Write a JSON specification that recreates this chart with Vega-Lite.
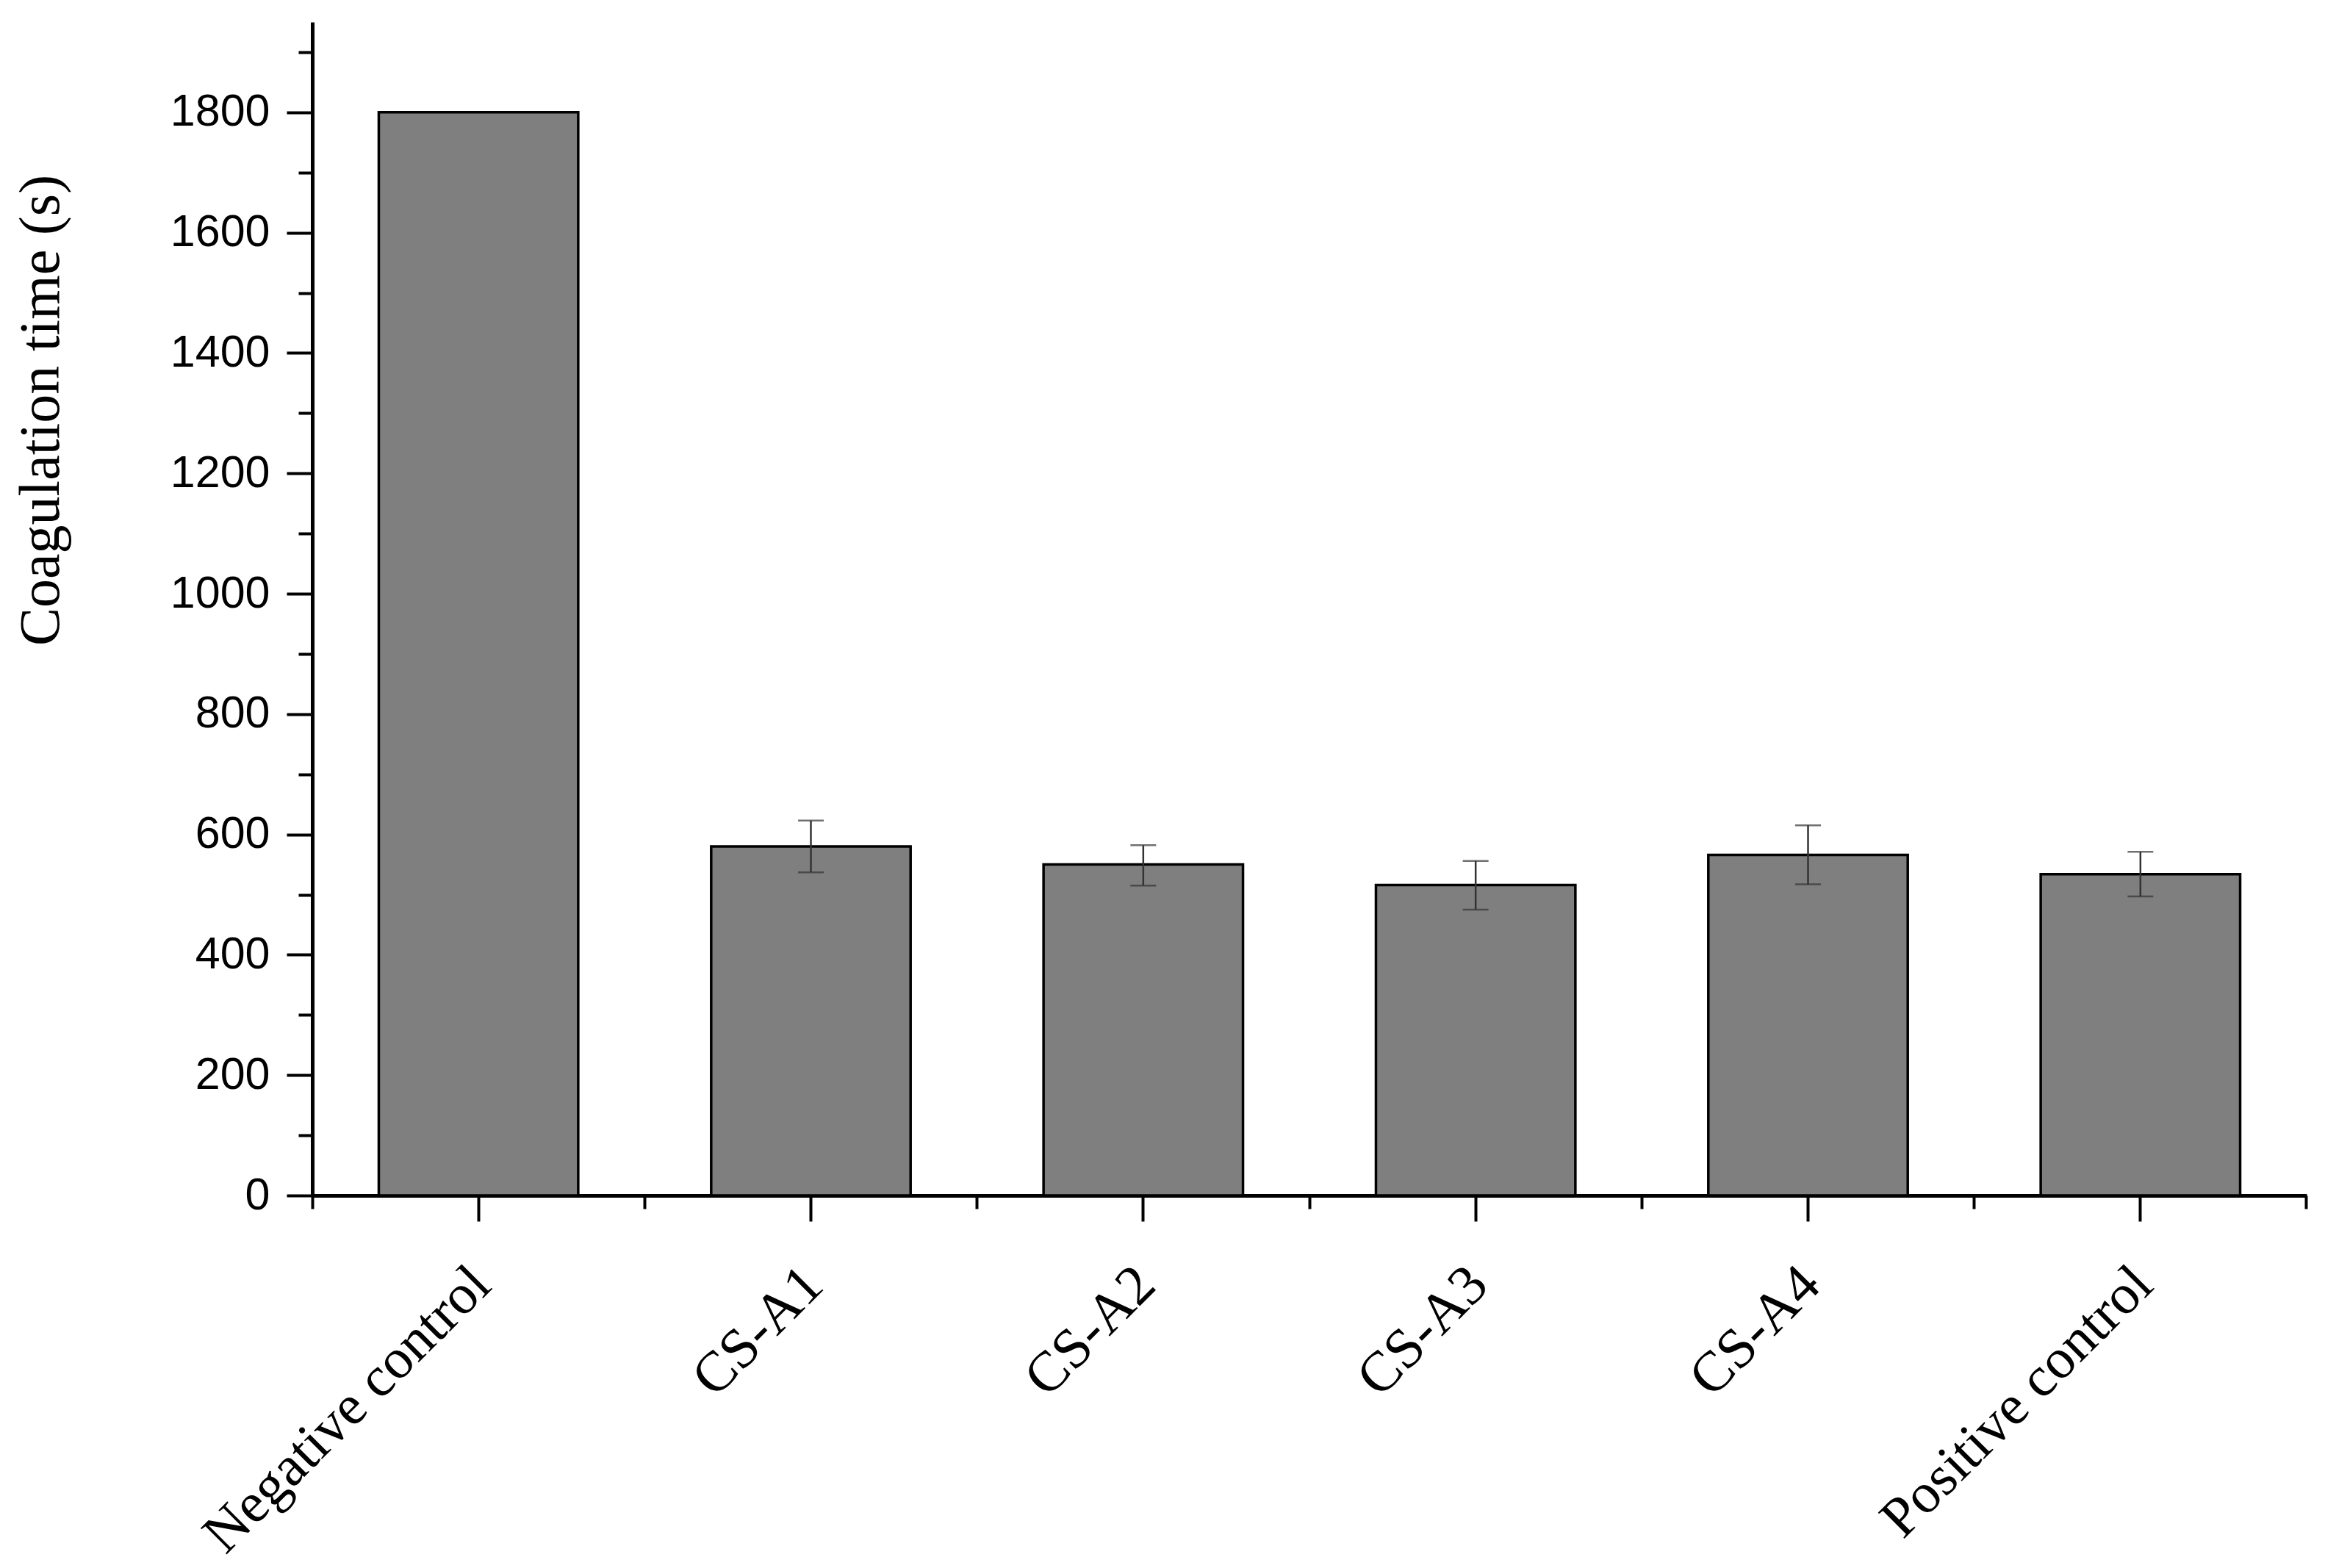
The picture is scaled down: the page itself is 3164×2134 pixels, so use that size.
{
  "$schema": "https://vega.github.io/schema/vega-lite/v6.json",
  "width": 2714,
  "height": 1597,
  "autosize": {"type": "none"},
  "padding": {"left": 425, "top": 30, "right": 25, "bottom": 507},
  "background": "white",
  "config": {"view": {"stroke": null}, "axis": {"grid": false, "tickColor": "#000", "domainColor": "#000", "labelColor": "#000", "titleColor": "#000"}},
  "data": {
    "values": [
      {"group": "Negative control", "time": 1800, "lower": null, "upper": null},
      {"group": "CS-A1", "time": 580, "lower": 537, "upper": 623},
      {"group": "CS-A2", "time": 550, "lower": 515, "upper": 582},
      {"group": "CS-A3", "time": 516, "lower": 475, "upper": 556},
      {"group": "CS-A4", "time": 566, "lower": 517, "upper": 615},
      {"group": "Positive control", "time": 534, "lower": 497, "upper": 571}
    ]
  },
  "layer": [
    {
      "mark": {"type": "bar", "fill": "#7f7f7f", "stroke": "#000", "strokeWidth": 3.5},
      "encoding": {
        "x": {
          "field": "group", "type": "nominal", "sort": null,
          "scale": {"paddingInner": 0.4, "paddingOuter": 0.2},
          "axis": {
            "orient": "bottom", "title": null, "labelAngle": -45, "labelAlign": "right", "labelBaseline": "middle",
            "labelFont": "Liberation Serif, Times New Roman, serif", "labelFontSize": 77, "labelPadding": 74, "labelOffset": 4,
            "labelOverlap": false, "labelLimit": 0, "labelBound": false,
            "tickSize": 35, "tickWidth": 4, "domainWidth": 5
          }
        },
        "y": {
          "field": "time", "type": "quantitative",
          "scale": {"domain": [0, 1950], "nice": false, "zero": true},
          "axis": {
            "orient": "left", "title": "Coagulation time (s)", "format": "d",
            "values": [0, 200, 400, 600, 800, 1000, 1200, 1400, 1600, 1800],
            "labelFont": "Liberation Sans, Arial, sans-serif", "labelFontSize": 61, "labelPadding": 23,
            "tickSize": 35, "tickWidth": 4, "domainWidth": 5,
            "titleFont": "Liberation Serif, Times New Roman, serif", "titleFontSize": 78, "titleFontWeight": "normal",
            "titleX": -369, "titleY": 528, "titleAngle": -90, "titleAlign": "center", "titleBaseline": "middle"
          }
        }
      }
    },
    {
      "mark": {"type": "rule", "stroke": "#333", "strokeWidth": 2.5},
      "encoding": {
        "x": {
          "field": "group", "type": "nominal", "sort": null,
          "axis": {"orient": "bottom", "bandPosition": -0.3333333, "labels": false, "domain": false, "title": null, "tickSize": 18, "tickWidth": 4}
        },
        "y": {
          "field": "lower", "type": "quantitative",
          "axis": {"orient": "left", "values": [100, 300, 500, 700, 900, 1100, 1300, 1500, 1700, 1900], "labels": false, "domain": false, "title": null, "tickSize": 19, "tickWidth": 4}
        },
        "y2": {"field": "upper"}
      }
    },
    {
      "mark": {"type": "tick", "color": "#333", "size": 35, "thickness": 2.5},
      "encoding": {
        "x": {
          "field": "group", "type": "nominal", "sort": null,
          "axis": {"orient": "bottom", "bandPosition": 1.3333333, "values": ["Positive control"], "labels": false, "domain": false, "title": null, "tickSize": 18, "tickWidth": 4}
        },
        "y": {"field": "lower", "type": "quantitative", "axis": null}
      }
    },
    {
      "mark": {"type": "tick", "color": "#333", "size": 35, "thickness": 2.5},
      "encoding": {
        "x": {"field": "group", "type": "nominal", "sort": null, "axis": null},
        "y": {"field": "upper", "type": "quantitative", "axis": null}
      }
    }
  ],
  "resolve": {"axis": {"x": "independent", "y": "independent"}}
}
